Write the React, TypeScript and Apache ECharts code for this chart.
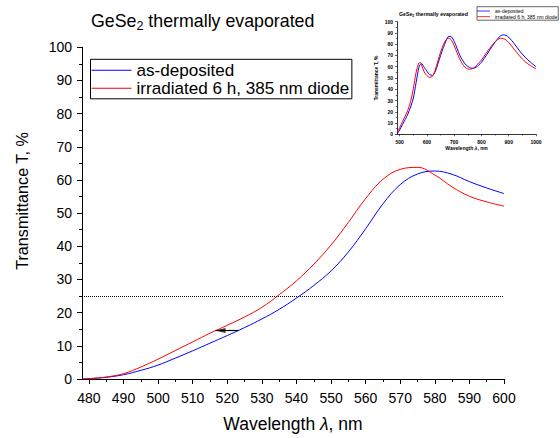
import React, { useEffect, useRef } from "react";
import * as echarts from "echarts";

const FONT = "'Liberation Sans', Arial, sans-serif";

// Main chart data (wavelength in nm, transmittance in %)
const wavelengths = [478, 480, 485, 490, 495, 500, 505, 510, 515, 520, 525, 530, 535, 540, 545, 550, 555, 560, 565, 570, 575, 580, 585, 590, 595, 600];
const asDeposited = [0, 0.1, 0.5, 1.3, 2.6, 4.2, 6.3, 8.5, 10.8, 13.1, 15.5, 18.1, 21.0, 24.4, 28.2, 32.6, 38.3, 45.3, 52.8, 58.6, 61.8, 62.7, 61.7, 59.5, 57.6, 55.9];
const irradiated = [0, 0.1, 0.6, 1.6, 3.6, 6.0, 8.6, 11.2, 13.8, 16.2, 18.7, 21.6, 25.4, 29.6, 34.6, 40.4, 47.2, 54.4, 60.2, 63.2, 63.8, 61.5, 57.9, 55.1, 53.4, 52.1];
const xTickValues = [480, 490, 500, 510, 520, 530, 540, 550, 560, 570, 580, 590, 600];
const xMinorTickValues = [485, 495, 505, 515, 525, 535, 545, 555, 565, 575, 585, 595];
const thresholdT = 25;
const arrowStart = [523.3, 14.6];
const arrowEnd = [516.6, 14.6];

// Inset data
const insetWavelengths = [490, 500, 510, 520, 530, 540, 550, 560, 570, 575, 580, 590, 600, 610, 620, 630, 640, 650, 660, 670, 680, 690, 700, 710, 720, 730, 740, 750, 760, 770, 780, 790, 800, 820, 840, 860, 870, 880, 890, 900, 920, 940, 960, 980, 1000];
const insetAsDeposited = [0, 4, 8.6, 13.1, 18.1, 24.3, 32.2, 45.8, 59.2, 61.9, 62.7, 59.4, 55.9, 53, 52.3, 55.5, 62.5, 70, 77, 83, 87, 86.5, 82.5, 76.5, 70.5, 66, 62.5, 60.3, 59, 58.6, 59.5, 61.5, 64, 71, 78.5, 85, 87.5, 88.3, 87.8, 86.2, 80.5, 74, 68.5, 64, 60];
const insetIrradiated = [1.5, 6, 11.2, 16.2, 21.6, 29.3, 40.5, 55, 63.3, 63.8, 61.6, 55.2, 52.1, 50.6, 51.5, 57, 65, 73, 79.5, 84, 85.3, 83.5, 78.5, 72.5, 67, 62.5, 59.5, 58, 57.8, 58.8, 60.8, 63.3, 66, 73, 79.5, 84.3, 85.3, 85, 83.8, 81.5, 75.5, 69.5, 64.5, 61, 58];
const insetXTickValues = [500, 600, 700, 800, 900, 1000];
const insetXMinorTickValues = [550, 650, 750, 850, 950];

const SERIES_A = "as-deposited";
const SERIES_B = "irradiated 6 h, 385 nm diode";

const zip = (xs: number[], ys: number[]) => xs.map((x, i) => [x, ys[i]]);

export default function App() {
  const ref = useRef<HTMLDivElement>(null);
  useEffect(() => {
    if (!ref.current) return;
    const chart = echarts.init(ref.current, undefined, { renderer: "svg" });
    const black = "#000";
    const option: any = {
      animation: false,
      backgroundColor: "#fff",
      title: [
        {
          text: "{m|GeSe}{sub|2}{m| thermally evaporated}",
          left: 91,
          top: 8.6,
          padding: 0,
          textStyle: {
            fontFamily: FONT,
            fontSize: 17.8,
            fontWeight: "normal",
            color: black,
            lineHeight: 24,
            rich: {
              m: { fontFamily: FONT, fontSize: 17.8, color: black, lineHeight: 24 },
              sub: { fontFamily: FONT, fontSize: 12.5, color: black, verticalAlign: "bottom", lineHeight: 12 },
            },
          },
        },
        {
          text: "{m|GeSe}{sub|2}{m| thermally evaporated}",
          left: 399,
          top: 10.5,
          padding: 0,
          textStyle: {
            fontFamily: FONT,
            fontSize: 5.2,
            fontWeight: "bold",
            color: black,
            lineHeight: 7,
            rich: {
              m: { fontFamily: FONT, fontSize: 5.2, fontWeight: "bold", color: black, lineHeight: 7 },
              sub: { fontFamily: FONT, fontSize: 3.6, fontWeight: "bold", color: black, verticalAlign: "bottom", lineHeight: 3.6 },
            },
          },
        },
      ],
      legend: [
        {
          data: [SERIES_A, SERIES_B],
          orient: "vertical",
          left: 90.5,
          top: 59.3,
          padding: [2.5, 2.5, 2, 1],
          icon: "rect",
          itemWidth: 40,
          itemHeight: 1,
          itemGap: 1,
          selectedMode: false,
          borderColor: black,
          borderWidth: 1,
          textStyle: { fontFamily: FONT, fontSize: 17.1, lineHeight: 17, color: black },
        },
        {
          data: [SERIES_A, SERIES_B],
          orient: "vertical",
          left: 477,
          top: 6.7,
          padding: [1.8, 1, 1, 0],
          icon: "rect",
          itemWidth: 13,
          itemHeight: 0.8,
          itemGap: 0.7,
          selectedMode: false,
          borderColor: black,
          borderWidth: 0.6,
          textStyle: { fontFamily: FONT, fontSize: 5, lineHeight: 5, color: black },
        },
      ],
      grid: [
        { left: 82, top: 47.3, width: 422, height: 335 },
        { left: 397, top: 21.7, width: 139, height: 112.6 },
      ],
      xAxis: [
        {
          type: "value",
          gridIndex: 0,
          min: 478,
          max: 600,
          position: "bottom",
          name: "Wavelength {i|λ}, nm",
          nameLocation: "middle",
          nameGap: 36,
          nameTextStyle: {
            fontFamily: FONT,
            fontSize: 17.5,
            color: black,
            rich: { i: { fontFamily: FONT, fontSize: 17.5, fontStyle: "italic", color: black } },
          },
          splitLine: { show: false },
          axisLine: { show: true, lineStyle: { color: black, width: 1 } },
          axisTick: { show: true, inside: false, length: 5, customValues: xTickValues, lineStyle: { color: black, width: 1 } },
          axisLabel: { customValues: xTickValues, margin: 12, fontFamily: FONT, fontSize: 14, color: black },
        },
        {
          type: "value",
          gridIndex: 0,
          min: 478,
          max: 600,
          position: "bottom",
          offset: 0,
          splitLine: { show: false },
          axisLine: { show: false },
          axisTick: { show: true, inside: false, length: 3, customValues: xMinorTickValues, lineStyle: { color: black, width: 1 } },
          axisLabel: { show: false },
        },
        {
          type: "value",
          gridIndex: 1,
          min: 490,
          max: 1000,
          position: "bottom",
          name: "Wavelength {i|λ}, nm",
          nameLocation: "middle",
          nameGap: 11.5,
          nameTextStyle: {
            fontFamily: FONT,
            fontSize: 5,
            fontWeight: "bold",
            color: black,
            rich: { i: { fontFamily: FONT, fontSize: 5, fontWeight: "bold", fontStyle: "italic", color: black } },
          },
          splitLine: { show: false },
          axisLine: { show: true, lineStyle: { color: black, width: 0.8 } },
          axisTick: { show: true, inside: false, length: 2, customValues: insetXTickValues, lineStyle: { color: black, width: 0.6 } },
          axisLabel: {
            customValues: insetXTickValues,
            margin: 5,
            fontFamily: FONT,
            fontSize: 5,
            fontWeight: "bold",
            color: black,
            formatter: (v: number) => String(v),
          },
        },
        {
          type: "value",
          gridIndex: 1,
          min: 490,
          max: 1000,
          position: "bottom",
          offset: 0,
          splitLine: { show: false },
          axisLine: { show: false },
          axisTick: { show: true, inside: false, length: 1.2, customValues: insetXMinorTickValues, lineStyle: { color: black, width: 0.6 } },
          axisLabel: { show: false },
        },
      ],
      yAxis: [
        {
          type: "value",
          gridIndex: 0,
          min: 0,
          max: 100,
          interval: 10,
          splitLine: { show: false },
          axisLine: { show: true, lineStyle: { color: black, width: 1 } },
          axisTick: { show: true, inside: false, length: 5, lineStyle: { color: black, width: 1 } },
          minorTick: { show: true, splitNumber: 2, length: 3, lineStyle: { color: black, width: 1 } },
          axisLabel: { margin: 10, fontFamily: FONT, fontSize: 14, color: black },
        },
        {
          type: "value",
          gridIndex: 1,
          min: 0,
          max: 100,
          interval: 10,
          name: "Transmittance T, %",
          nameLocation: "middle",
          nameGap: 19,
          nameTextStyle: { fontFamily: FONT, fontSize: 5, fontWeight: "bold", color: black },
          splitLine: { show: false },
          axisLine: { show: true, lineStyle: { color: black, width: 0.8 } },
          axisTick: { show: true, inside: false, length: 2, lineStyle: { color: black, width: 0.6 } },
          minorTick: { show: true, splitNumber: 2, length: 1.2, lineStyle: { color: black, width: 0.6 } },
          axisLabel: { margin: 4, fontFamily: FONT, fontSize: 5, fontWeight: "bold", color: black },
        },
      ],
      graphic: [
        {
          type: "text",
          x: 22,
          y: 201,
          rotation: Math.PI / 2,
          style: {
            text: "Transmittance T, %",
            fontFamily: FONT,
            fontSize: 16.2,
            fill: black,
            align: "center",
            verticalAlign: "middle",
          },
        },
      ],
      series: [
        {
          name: SERIES_A,
          type: "line",
          xAxisIndex: 0,
          yAxisIndex: 0,
          data: zip(wavelengths, asDeposited),
          symbol: "none",
          smooth: 0.4,
          lineStyle: { color: "#0000ff", width: 1 },
          itemStyle: { color: "#0000ff" },
          z: 3,
          markLine: {
            silent: true,
            symbol: ["none", "none"],
            label: { show: false },
            lineStyle: { color: black, type: "dotted", width: 1 },
            data: [{ yAxis: thresholdT }],
          },
        },
        {
          name: SERIES_B,
          type: "line",
          xAxisIndex: 0,
          yAxisIndex: 0,
          data: zip(wavelengths, irradiated),
          symbol: "none",
          smooth: 0.4,
          lineStyle: { color: "#ff0000", width: 1 },
          itemStyle: { color: "#ff0000" },
          z: 3,
          markLine: {
            silent: true,
            symbol: ["none", "none"],
            label: { show: false },
            lineStyle: { color: black, type: "solid", width: 1.2 },
            data: [[{ coord: arrowStart }, { coord: arrowEnd }]],
          },
        },
        {
          name: "arrowhead",
          type: "scatter",
          xAxisIndex: 0,
          yAxisIndex: 0,
          data: [arrowEnd],
          symbol: "path://M10,0 L0,2.5 L10,5 Z",
          symbolSize: [10, 5],
          symbolOffset: [5, 0],
          itemStyle: { color: black },
          silent: true,
          z: 5,
        },
        {
          name: SERIES_A,
          type: "line",
          xAxisIndex: 2,
          yAxisIndex: 1,
          data: zip(insetWavelengths, insetAsDeposited),
          symbol: "none",
          smooth: 0.3,
          lineStyle: { color: "#0000ff", width: 1 },
          itemStyle: { color: "#0000ff" },
        },
        {
          name: SERIES_B,
          type: "line",
          xAxisIndex: 2,
          yAxisIndex: 1,
          data: zip(insetWavelengths, insetIrradiated),
          symbol: "none",
          smooth: 0.3,
          lineStyle: { color: "#ff0000", width: 1 },
          itemStyle: { color: "#ff0000" },
        },
      ],
    };
    chart.setOption(option);
    return () => chart.dispose();
  }, []);
  return (
    <div
      ref={ref}
      style={{ position: "absolute", left: 0, top: 0, width: 560, height: 438, background: "#fff" }}
    />
  );
}
